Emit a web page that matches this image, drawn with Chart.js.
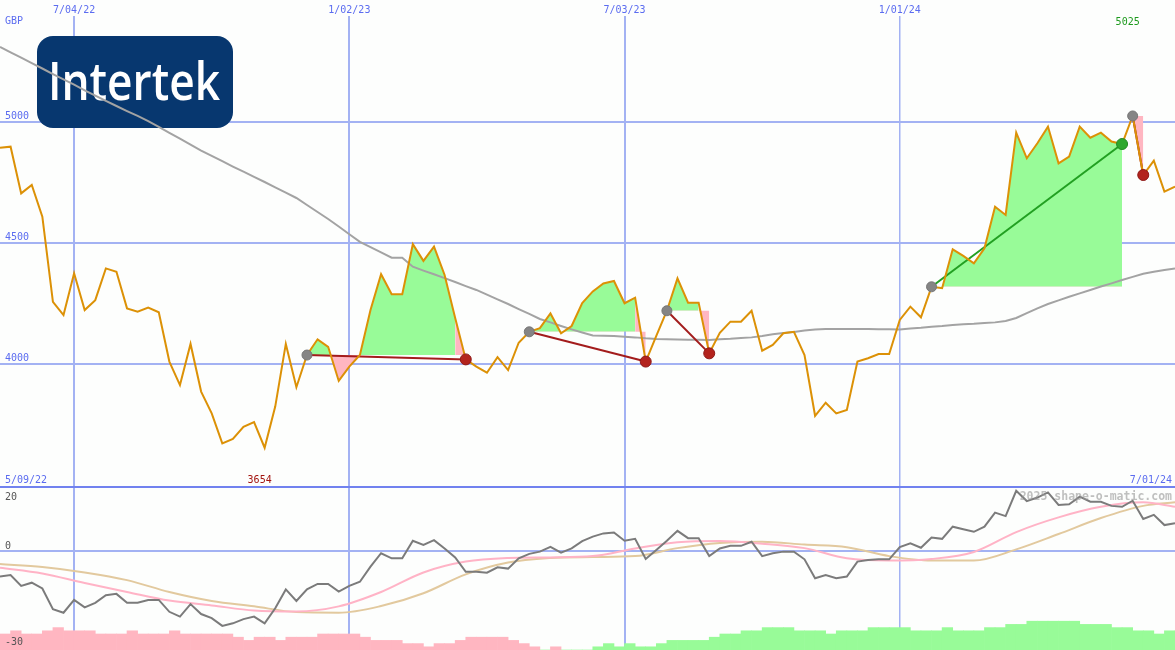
<!DOCTYPE html>
<html>
<head>
<meta charset="utf-8">
<script src="https://cdn.jsdelivr.net/npm/chart.js@4/dist/chart.umd.min.js"></script>
<style>
  body { margin: 0; background: #fdfefd; }
  #wrap { width: 1175px; height: 650px; }
</style>
</head>
<body>
<div id="wrap"><canvas id="myChart" width="1175" height="650"></canvas></div>
<script>
// weekly closes (GBP), week 0 = mid May 2022
const price = [4894, 4898, 4705, 4740, 4609, 4257, 4202, 4375, 4223, 4264,
  4395, 4381, 4230, 4216, 4233, 4214, 4010, 3913, 4083, 3886,
  3796, 3672, 3690, 3740, 3760, 3654, 3824, 4083, 3904, 4037,
  4102, 4071, 3930, 3989, 4037, 4223, 4371, 4288, 4288, 4495,
  4426, 4485, 4368, 4190, 4019, 3989, 3964, 4028, 3975, 4088,
  4133, 4148, 4209, 4127, 4157, 4252, 4300, 4333, 4343, 4251,
  4274, 4010, 4116, 4220, 4354, 4253, 4253, 4044, 4129, 4175,
  4175, 4220, 4055, 4079, 4127, 4133, 4037, 3786, 3840, 3796,
  3810, 4010, 4024, 4041, 4041, 4182, 4237, 4193, 4319, 4313,
  4474, 4447, 4416, 4478, 4650, 4616, 4956, 4850, 4912, 4981,
  4829, 4857, 4981, 4935, 4956, 4919, 4909, 5025, 4781, 4840,
  4712, 4733];

// long moving average (grey)
const movAvg = [5310, 5288, 5266, 5243, 5221, 5198, 5176, 5154, 5131, 5109,
  5087, 5066, 5045, 5025, 5004, 4980, 4955, 4931, 4906, 4882,
  4860, 4838, 4816, 4795, 4773, 4752, 4730, 4708, 4686, 4657,
  4628, 4599, 4568, 4536, 4505, 4483, 4461, 4439, 4439, 4402,
  4386, 4371, 4355, 4339, 4322, 4306, 4287, 4267, 4248, 4227,
  4207, 4186, 4172, 4157, 4143, 4130, 4118, 4117, 4116, 4113,
  4110, 4106, 4103, 4102, 4101, 4100, 4100, 4099, 4102, 4104,
  4107, 4110, 4116, 4123, 4128, 4132, 4138, 4143, 4145, 4145,
  4145, 4145, 4145, 4144, 4144, 4143, 4147, 4150, 4154, 4157,
  4161, 4164, 4166, 4169, 4172, 4178, 4190, 4210, 4230, 4248,
  4263, 4278, 4292, 4306, 4320, 4333, 4347, 4360, 4373, 4381,
  4388, 4395];

// lower panel: momentum (dark grey)
const momentum = [-8.0, -7.5, -10.9, -9.9, -11.7, -18.2, -19.3, -15.3, -17.6, -16.2,
  -13.8, -13.4, -16.2, -16.2, -15.3, -15.3, -19.0, -20.5, -16.6, -19.7,
  -21.0, -23.4, -22.6, -21.3, -20.5, -22.6, -17.9, -12.0, -15.6, -12.0,
  -10.3, -10.3, -12.7, -10.9, -9.6, -4.9, -0.7, -2.3, -2.3, 3.2,
  1.9, 3.4, 0.8, -2.0, -6.5, -6.5, -6.8, -5.1, -5.5, -2.3,
  -0.9, -0.2, 1.3, -0.5, 0.8, 3.1, 4.5, 5.5, 5.8, 3.2,
  3.8, -2.5, 0.3, 3.2, 6.3, 4.0, 4.0, -1.6, 0.8, 1.6,
  1.6, 2.9, -1.6, -0.7, -0.2, -0.2, -2.6, -8.5, -7.5, -8.5,
  -8.0, -3.3, -2.8, -2.6, -2.6, 1.2, 2.4, 1.0, 4.2, 3.8,
  7.6, 6.8, 6.0, 7.6, 12.0, 10.9, 18.8, 15.6, 16.7, 18.3,
  14.4, 14.6, 17.0, 15.4, 15.4, 14.1, 13.8, 15.7, 10.0, 11.3,
  8.1, 8.7];

// smoothed signal lines, read every 4 weeks
const signalWeeks = [0, 4, 8, 12, 16, 20, 24, 28, 32, 36, 40, 44, 48, 52, 56,
  60, 64, 68, 72, 76, 80, 84, 88, 92, 96, 100, 104, 108, 111];
const signalFast = [-5.2, -7.0, -10.0, -12.8, -15.5, -17.0, -18.6, -18.9, -17.3, -12.8,
  -6.7, -3.3, -2.2, -2.0, -1.6, 0.8, 2.7, 3.1, 2.3, 0.9,
  -2.3, -3.0, -2.5, -0.3, 5.9, 10.5, 13.8, 15.2, 13.8];
const signalSlow = [-4.1, -5.0, -6.7, -9.1, -12.8, -15.6, -17.3, -19.1, -19.3, -17.2,
  -13.2, -7.3, -3.6, -2.2, -1.9, -1.6, 0.9, 2.5, 2.9, 2.0,
  1.2, -1.6, -3.0, -3.0, 0.5, 5.3, 10.3, 14.1, 15.2];

// histogram at the bottom (negative = pink, positive = green)
const histo = [-5, -6, -5, -5, -6, -7, -6, -6, -6, -5,
  -5, -5, -6, -5, -5, -5, -6, -5, -5, -5,
  -5, -5, -4, -3, -4, -4, -3, -4, -4, -4,
  -5, -5, -5, -5, -4, -3, -3, -3, -2, -2,
  -1, -2, -2, -3, -4, -4, -4, -4, -3, -2,
  -1, 0, -1, 0, 0, 0, 1, 2, 1, 2,
  1, 1, 2, 3, 3, 3, 3, 4, 5, 5,
  6, 6, 7, 7, 7, 6, 6, 6, 5, 6,
  6, 6, 7, 7, 7, 7, 6, 6, 6, 7,
  6, 6, 6, 7, 7, 8, 8, 9, 9, 9,
  9, 9, 8, 8, 8, 7, 7, 6, 6, 5,
  6, 6];

// trades: entry / exit weeks
const entryWeeks = [29, 50, 63, 88, 107];
const exitWeeks = [44, 61, 67, 106, 108];

const dateWeeks = [7, 33, 59, 85];
const dateLabels = ["7/04/22", "1/02/23", "7/03/23", "1/01/24"];
const priceTicks = [4000, 4500, 5000];
const lowerTicks = [20, 0, -30];
const rangeLabels = ["5/09/22", "7/01/24"];

const BG = "#fdfefd";
const GRID = "#a3b2f3";
const SEP = "#7182ef";
const LABEL = "#5b6cf0";
const GREEN = "#98fb98";
const PINK = "#ffb6c1";

const pts = (arr) => arr.map((v, i) => ({ x: i, y: v }));
const span = (a, b) => price.slice(a, b + 1).map((v, i) => ({ x: a + i, y: v }));

const datasets = [];

// bars
datasets.push({
  type: "bar",
  yAxisID: "y3",
  data: histo.map((v, i) => ({ x: i + 0.5, y: Math.abs(v) })),
  backgroundColor: histo.map(v => v < 0 ? PINK : GREEN),
  barPercentage: 1,
  categoryPercentage: 1,
  grouped: false,
  order: 30,
});

// trade fills
entryWeeks.forEach((e, k) => {
  const x = exitWeeks[k];
  const base = price[e];
  const win = price[x] > base;
  const mainEnd = win ? x : x - 1;
  if (mainEnd > e) {
    datasets.push({
      data: span(e, mainEnd), yAxisID: "y", borderWidth: 0, pointRadius: 0,
      fill: { target: { value: base }, above: GREEN, below: PINK }, order: 20,
    });
  }
  if (!win) {
    datasets.push({
      data: span(x - 1, x), yAxisID: "y", borderWidth: 0, pointRadius: 0,
      fill: { target: { value: base }, above: PINK, below: PINK }, order: 20,
    });
  }
});

// lower panel lines
datasets.push({
  data: signalWeeks.map((w, i) => ({ x: w, y: signalSlow[i] })), yAxisID: "y2",
  borderColor: "#e2c99e", borderWidth: 2, pointRadius: 0, cubicInterpolationMode: "monotone", order: 12,
});
datasets.push({
  data: signalWeeks.map((w, i) => ({ x: w, y: signalFast[i] })), yAxisID: "y2",
  borderColor: "#ffb3c6", borderWidth: 2, pointRadius: 0, cubicInterpolationMode: "monotone", order: 11,
});
datasets.push({
  data: pts(momentum), yAxisID: "y2",
  borderColor: "#7b7b7b", borderWidth: 2, pointRadius: 0, order: 10,
});

// moving average
datasets.push({
  data: pts(movAvg), yAxisID: "y",
  borderColor: "#a3a3a3", borderWidth: 2, pointRadius: 0, order: 9,
});

// trade lines
entryWeeks.forEach((e, k) => {
  const x = exitWeeks[k];
  const win = price[x] > price[e];
  datasets.push({
    data: [{ x: e, y: price[e] }, { x: x, y: price[x] }], yAxisID: "y",
    borderColor: win ? "#22a022" : "#a31c1c", borderWidth: 2, pointRadius: 0, order: 8,
  });
});

// price
datasets.push({
  data: pts(price), yAxisID: "y",
  borderColor: "#dc9106", borderWidth: 2, pointRadius: 0, order: 5,
});

// markers
datasets.push({
  data: entryWeeks.map(w => ({ x: w, y: price[w] })), yAxisID: "y", showLine: false,
  pointRadius: 5, pointBackgroundColor: "#858585", pointBorderColor: "#777", pointBorderWidth: 1, order: 2,
});
datasets.push({
  data: exitWeeks.map(w => ({ x: w, y: price[w] })), yAxisID: "y", showLine: false,
  pointRadius: 5.5,
  pointBackgroundColor: exitWeeks.map((w, k) => price[w] > price[entryWeeks[k]] ? "#2ea82e" : "#b3231d"),
  pointBorderColor: exitWeeks.map((w, k) => price[w] > price[entryWeeks[k]] ? "#238a23" : "#8e1a18"),
  pointBorderWidth: 1, order: 1,
});

const zeroW = s => { s.width = 0; };
const zeroH = s => { s.height = 0; };

const chartDecor = {
  id: "chartDecor",
  beforeDraw(chart) {
    const c = chart.ctx;
    c.save();
    c.fillStyle = BG;
    c.fillRect(0, 0, chart.width, chart.height);
    c.restore();
  },
  beforeDatasetsDraw(chart) {
    // logo
    const c = chart.ctx;
    c.save();
    c.fillStyle = "#07376f";
    c.beginPath();
    c.roundRect(37, 36, 196, 92, 16);
    c.fill();
    c.fillStyle = "#ffffff";
    c.font = '600 53px "Open Sans"';
    c.textBaseline = "alphabetic";
    const w = c.measureText("Intertek").width;
    c.translate(48, 100);
    c.scale(172 / w, 1);
    c.fillText("Intertek", 0, 0);
    c.restore();
  },
  afterDraw(chart) {
    const c = chart.ctx;
    const xs = chart.scales.x, ys = chart.scales.y, y2 = chart.scales.y2;
    c.save();
    c.font = '10px "DejaVu Sans Mono"';
    c.textBaseline = "alphabetic";

    // dates on top
    c.textAlign = "center";
    dateWeeks.forEach((w, i) => {
      const px = xs.getPixelForValue(w);
      c.fillStyle = BG;
      c.fillRect(px - 26, 0, 52, 16);
      c.fillStyle = LABEL;
      c.fillText(dateLabels[i], px, 13);
    });

    c.textAlign = "left";
    c.fillStyle = LABEL;
    c.fillText("GBP", 5, 24);
    priceTicks.forEach(v => c.fillText(String(v), 5, ys.getPixelForValue(v) - 3));
    c.fillText(rangeLabels[0], 5, 483);
    c.textAlign = "right";
    c.fillText(rangeLabels[1], 1172, 483);

    // min / max labels
    const lo = Math.min(...price), hi = Math.max(...price);
    c.textAlign = "center";
    c.fillStyle = "#a3140f";
    c.fillText(String(lo), xs.getPixelForValue(price.indexOf(lo)) - 5, 483);
    c.fillStyle = "#1d9a1d";
    c.fillText(String(hi), xs.getPixelForValue(price.indexOf(hi)) - 5, 25);

    // lower axis labels
    c.textAlign = "left";
    c.fillStyle = "#555";
    lowerTicks.forEach(v => {
      const py = y2.getPixelForValue(v);
      c.fillText(String(v), 5, v === 20 ? py + 13 : py - 2);
    });

    // watermark
    c.font = 'bold 11.5px "DejaVu Sans Mono"';
    c.textAlign = "right";
    c.fillStyle = "rgba(150,150,150,0.6)";
    c.fillText("2025 shape-o-matic.com", 1172, 500);
    c.restore();
  },
};

const ctx = document.getElementById("myChart");

new Chart(ctx, {
  type: "line",
  data: { datasets: datasets },
  plugins: [chartDecor],
  options: {
    responsive: false,
    animation: false,
    layout: { padding: 0, autoPadding: false },
    elements: { line: { tension: 0 } },
    plugins: { legend: { display: false }, tooltip: { enabled: false } },
    scales: {
      x: {
        type: "linear", min: 0, max: 111, offset: false,
        afterBuildTicks: s => { s.ticks = dateWeeks.map(v => ({ value: v })); },
        afterFit: zeroH,
        ticks: { display: false },
        border: { display: false },
        grid: { offset: false, drawTicks: false, color: GRID, lineWidth: c => (c.index === 3 ? 1.5 : 2) },
      },
      y: {
        min: 2818.2, max: 5504.1,
        afterBuildTicks: s => { s.ticks = priceTicks.map(v => ({ value: v })); },
        afterFit: zeroW,
        ticks: { display: false },
        border: { display: false },
        grid: { drawTicks: false, color: GRID, lineWidth: 2 },
      },
      y2: {
        min: -30.94, max: 172.19,
        afterBuildTicks: s => { s.ticks = [{ value: 20 }, { value: 0 }]; },
        afterFit: zeroW,
        ticks: { display: false },
        border: { display: false },
        grid: { drawTicks: false, color: c => (c.tick && c.tick.value === 20 ? SEP : GRID), lineWidth: 2 },
      },
      y3: { display: false, min: 0, max: 203.125 },
    },
  },
});
</script>
</body>
</html>
